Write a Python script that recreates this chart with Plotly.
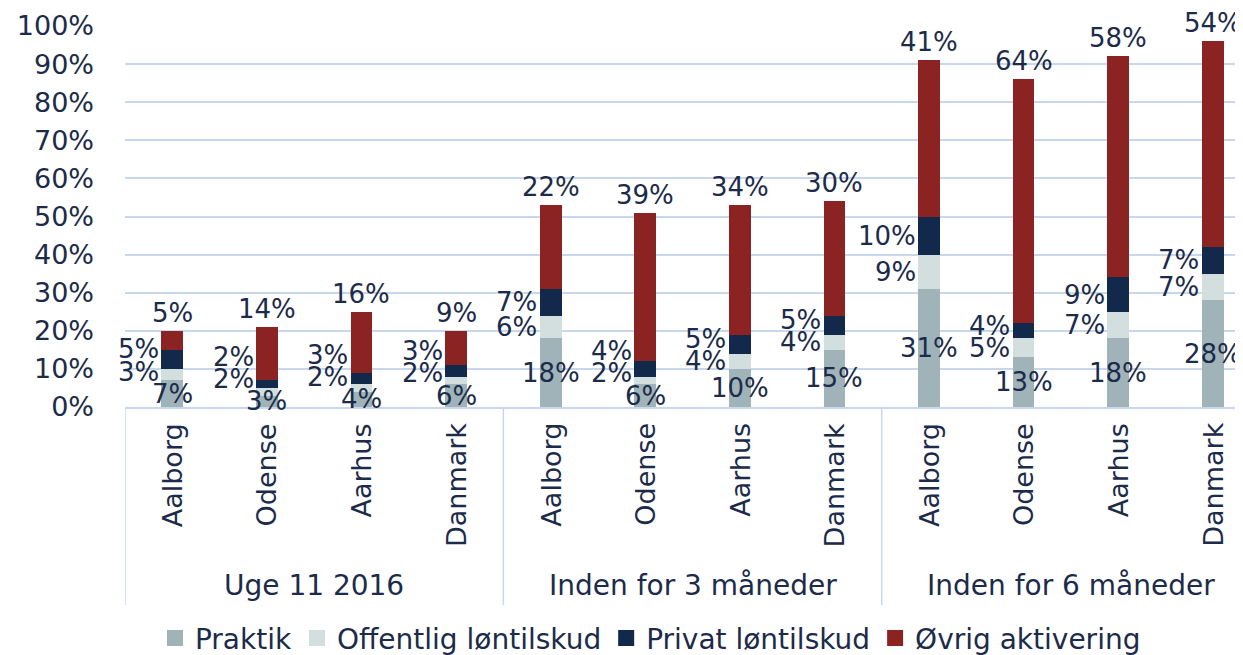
import plotly.graph_objects as go

groups = ["Uge 11 2016", "Inden for 3 måneder", "Inden for 6 måneder"]
cities = ["Aalborg", "Odense", "Aarhus", "Danmark"]
series_names = ["Praktik", "Offentlig løntilskud", "Privat løntilskud", "Øvrig aktivering"]
praktik = [7, 3, 4, 6, 18, 6, 10, 15, 31, 13, 18, 28]
offentlig = [3, 2, 2, 2, 6, 2, 4, 4, 9, 5, 7, 7]
privat = [5, 2, 3, 3, 7, 4, 5, 5, 10, 4, 9, 7]
ovrig = [5, 14, 16, 9, 22, 39, 34, 30, 41, 64, 58, 54]
colors = ["#9fb3b9", "#d3dedf", "#13294b", "#8b2323"]

TXT = "#1c2b4a"
FONT = "DejaVu Sans"
GRID = "#c8d7ec"

n = len(praktik)
xs = list(range(n))
fig = go.Figure()
for name, vals, col in zip(series_names, [praktik, offentlig, privat, ovrig], colors):
    fig.add_trace(go.Bar(x=xs, y=[v / 100 for v in vals], name=name, width=0.23,
                         marker=dict(color=col, line=dict(width=0)), hoverinfo="skip",
                         showlegend=False, cliponaxis=False))
    fig.add_trace(go.Scatter(x=[None], y=[None], mode="markers", name=name,
                             marker=dict(symbol="square", size=22, color=col)))

LF = dict(family=FONT, size=26, color=TXT)
ann = []
for i in xs:
    p, o, r, v = praktik[i], offentlig[i], privat[i], ovrig[i]
    py = p / 2
    oy = max(p + o / 2, py + 5.8)
    ry = max(p + o + r / 2, oy + 5.8)
    top = p + o + r + v
    ann.append(dict(x=i, y=py / 100, text=f"{p}%", xanchor="center", yanchor="middle", font=LF))
    ann.append(dict(x=i - 0.12, y=oy / 100, text=f"{o}%", xanchor="right", yanchor="middle", font=LF))
    ann.append(dict(x=i - 0.12, y=ry / 100, text=f"{r}%", xanchor="right", yanchor="middle", font=LF))
    ann.append(dict(x=i, y=top / 100, text=f"{v}%", xanchor="center", yanchor="bottom", yshift=1, font=LF))
    ann.append(dict(x=i, y=0, text=cities[i % 4], textangle=-90, xanchor="center", yanchor="top",
                    yshift=-14, font=dict(family=FONT, size=27, color=TXT)))
for g, name in enumerate(groups):
    ann.append(dict(x=g * 4 + 1.5, y=0, text=name, xanchor="center", yanchor="middle",
                    yshift=-178, font=dict(family=FONT, size=28, color=TXT)))
for a in ann:
    a["showarrow"] = False
    a["xref"] = "x"
    a["yref"] = "y"

shapes = []
for xb in [-0.5, 3.5, 7.5]:
    shapes.append(dict(type="line", xref="x", yref="paper", x0=xb, x1=xb, y0=0, y1=-0.52,
                       line=dict(color=GRID, width=1.5)))

# page body adds an 8px offset; figure sized so the plot lands where the reference has it
fig.update_layout(
    width=1235, height=647,
    margin=dict(l=117, r=0, t=18, b=248, autoexpand=False),
    barmode="stack",
    plot_bgcolor="white", paper_bgcolor="white",
    font=dict(family=FONT, size=26, color=TXT),
    annotations=ann, shapes=shapes,
    showlegend=True,
    legend=dict(orientation="h", x=0.47, xanchor="center", y=-0.607, yanchor="middle",
                font=dict(family=FONT, size=28, color=TXT), traceorder="normal",
                itemsizing="trace", itemwidth=30, tracegroupgap=0),
    xaxis=dict(range=[-0.5, 11.32], showticklabels=False, showgrid=False, zeroline=False,
               showline=True, linecolor=GRID, linewidth=1.5, ticks=""),
    yaxis=dict(range=[0, 1], tickvals=[i / 10 for i in range(11)], tickformat=".0%",
               showgrid=True, gridcolor=GRID, gridwidth=1.5, zeroline=False,
               showline=False, ticks="", ticklabelstandoff=30,
               tickfont=dict(family=FONT, size=27, color=TXT)),
)
fig.write_html("out.html")
